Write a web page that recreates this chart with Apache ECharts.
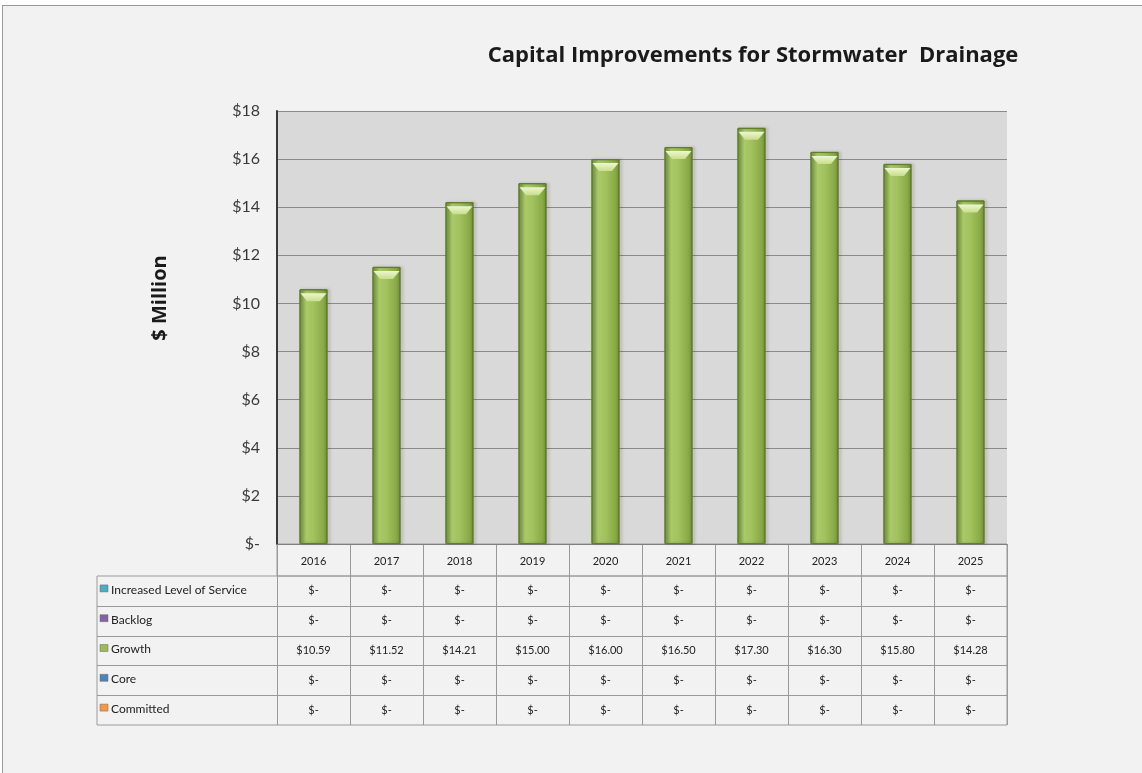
<!DOCTYPE html>
<html>
<head>
<meta charset="utf-8">
<script src="https://cdn.jsdelivr.net/npm/echarts@6/dist/echarts.min.js"></script>
<style>
html,body{margin:0;padding:0;background:#ffffff;}
#frame{position:absolute;left:2px;top:5px;width:1200px;height:900px;border:1px solid #9a9a9a;background:#f2f2f2;}
#main{position:absolute;left:0;top:0;width:1142px;height:773px;}
</style>
</head>
<body>
<div id="frame"></div>
<div id="main"></div>
<script>
// ---- data ----
const years = ['2016','2017','2018','2019','2020','2021','2022','2023','2024','2025'];
const increasedLevelOfService = [0,0,0,0,0,0,0,0,0,0];
const backlog = [0,0,0,0,0,0,0,0,0,0];
const growth = [10.59,11.52,14.21,15.00,16.00,16.50,17.30,16.30,15.80,14.28];
const core = [0,0,0,0,0,0,0,0,0,0];
const committed = [0,0,0,0,0,0,0,0,0,0];
const yTicks = [0,2,4,6,8,10,12,14,16,18];

const rows = [
  {name:'Increased Level of Service', color:'#4bacc6', values:increasedLevelOfService},
  {name:'Backlog', color:'#8064a2', values:backlog},
  {name:'Growth', color:'#9bbb59', values:growth},
  {name:'Core', color:'#4f81bd', values:core},
  {name:'Committed', color:'#f79646', values:committed}
];

function money(v){ return v === 0 ? '$-' : '$' + v.toFixed(2); }

const FONT = 'Lato, "Open Sans", sans-serif';
const TFONT = '"Open Sans", Lato, sans-serif';
const chart = echarts.init(document.getElementById('main'), null, {renderer:'canvas'});

const option = {
  backgroundColor:'transparent',
  animation:false,
  title:{
    text:'Capital Improvements for Stormwater  Drainage',
    left:748, top:40, textAlign:'center',
    textStyle:{fontFamily:TFONT, fontSize:22, fontWeight:'bold', color:'#1a1a1a'}
  },
  grid:{left:277, right:135, top:111, bottom:229, show:true, backgroundColor:'#d9d9d9', borderWidth:0},
  xAxis:{
    type:'category', data:years,
    axisLine:{show:true, lineStyle:{color:'#7f7f7f', width:1}},
    axisTick:{show:false}, axisLabel:{show:false}, splitLine:{show:false}
  },
  yAxis:{
    type:'value', min:0, max:18, interval:2,
    axisLine:{show:true, lineStyle:{color:'#3a3a3a', width:2}},
    axisTick:{show:false},
    axisLabel:{fontFamily:FONT, fontSize:16, color:'#3a3a3a', margin:17,
      formatter:function(v){ return yTicks.indexOf(v) >= 0 ? (v === 0 ? '$-' : '$' + v) : ''; }},
    splitLine:{show:true, lineStyle:{color:'#8a8a8a', width:1}}
  },
  series:[
    {
      name:'Growth', type:'bar', data:growth, barWidth:28,
      itemStyle:{
        color:new echarts.graphic.LinearGradient(0,0,1,0,[
          {offset:0, color:'#7f9e40'},
          {offset:0.25, color:'#a9c96a'},
          {offset:0.5, color:'#a2c25e'},
          {offset:0.85, color:'#8aaa48'},
          {offset:1, color:'#6e8c34'}
        ]),
        borderColor:'#5f7d2a', borderWidth:1,
        shadowColor:'rgba(0,0,0,0.25)', shadowBlur:3, shadowOffsetX:2, shadowOffsetY:0
      },
      z:2
    },
    {
      name:'GrowthTop', type:'pictorialBar', data:growth,
      symbol:'path://M0,0 L28,0 L21,8 L7,8 Z',
      symbolSize:[26,8], symbolPosition:'end', symbolOffset:[0,'50%'],
      itemStyle:{color:new echarts.graphic.LinearGradient(0,0,0,1,[
        {offset:0, color:'#eef7cf'},{offset:1, color:'#c7de8c'}
      ])},
      z:3, silent:true
    }
  ]
};
chart.setOption(option);

function buildTable(){
  const x0 = chart.convertToPixel({xAxisIndex:0}, years[0]);
  const x1 = chart.convertToPixel({xAxisIndex:0}, years[1]);
  const band = x1 - x0;
  const left = x0 - band/2;
  const right = left + band*years.length;
  const top = chart.convertToPixel({yAxisIndex:0}, 0);
  const headerH = 32, rowH = 29.8;
  const labelLeft = 97;
  const lineColor = '#9a9a9a';
  const els = [];
  const bottom = top + headerH + rowH*rows.length;
  els.push({type:'text', x:160, y:298, rotation:Math.PI/2,
    style:{text:'$ Million', fill:'#1a1a1a', font:'bold 20px '+TFONT, align:'center', verticalAlign:'middle'}});
  els.push({type:'rect', shape:{x:left, y:top, width:right-left, height:headerH}, style:{fill:'none', stroke:lineColor, lineWidth:1}});
  els.push({type:'rect', shape:{x:labelLeft, y:top+headerH, width:right-labelLeft, height:rowH*rows.length}, style:{fill:'none', stroke:lineColor, lineWidth:1}});
  for(let r=1;r<rows.length;r++){
    const y = Math.round(top+headerH+rowH*r)+0.5;
    els.push({type:'line', shape:{x1:labelLeft, y1:y, x2:right, y2:y}, style:{stroke:lineColor, lineWidth:1}});
  }
  for(let c=0;c<=years.length;c++){
    const x = Math.round(left+band*c)+0.5;
    els.push({type:'line', shape:{x1:x, y1:top, x2:x, y2:bottom}, style:{stroke:lineColor, lineWidth:1}});
  }
  years.forEach(function(yr,i){
    els.push({type:'text', x:left+band*(i+0.5), y:top+headerH/2+1,
      style:{text:yr, fill:'#222', font:'11px '+FONT, align:'center', verticalAlign:'middle'}});
  });
  rows.forEach(function(row,r){
    const cy = top+headerH+rowH*(r+0.5);
    els.push({type:'rect', shape:{x:labelLeft+3, y:cy-6, width:8, height:7}, style:{fill:row.color, stroke:'#6a6a6a', lineWidth:0.5}});
    els.push({type:'text', x:labelLeft+14, y:cy-1,
      style:{text:row.name, fill:'#222', font:'12px '+FONT, align:'left', verticalAlign:'middle'}});
    row.values.forEach(function(v,i){
      els.push({type:'text', x:left+band*(i+0.5), y:cy,
        style:{text:money(v), fill:'#222', font:'11px '+FONT, align:'center', verticalAlign:'middle'}});
    });
  });
  chart.setOption({graphic:[{type:'group', children:els}]});
}
buildTable();
</script>
</body>
</html>
